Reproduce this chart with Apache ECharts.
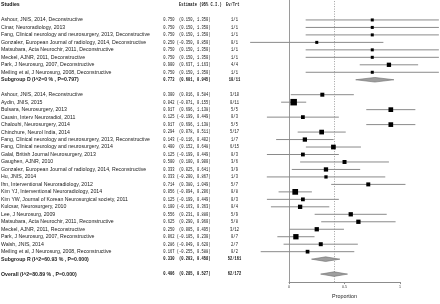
<!DOCTYPE html>
<html><head><meta charset="utf-8">
<script src="https://cdn.jsdelivr.net/npm/echarts@6/dist/echarts.min.js"></script>
<style>html,body{margin:0;padding:0;background:#fff}#c{width:440px;height:304px}</style>
</head><body><div id="c"></div>
<script>
// ---- data ----
const dStudies = [
  'Ashour, JNIS, 2014, Deconstructive',
  'Cinar, Neuroradiology, 2013',
  'Fang, Clinical neurology and neurosurgery, 2013, Deconstructive',
  'Gonzalez, European Journal of radiology, 2014, Deconstructive',
  'Matsubara, Acta Neurochir, 2011, Deconstructive',
  'Meckel, AJNR, 2011, Deconstructive',
  'Park, J Neurosurg, 2007, Deconstructive',
  'Meiling et al, J Neurosurg, 2008, Deconstructive'
];
const dEst = [0.750, 0.750, 0.750, 0.250, 0.750, 0.750, 0.900, 0.750];
const dLo  = [0.150, 0.150, 0.150, -0.350, 0.150, 0.150, 0.637, 0.150];
const dHi  = [1.350, 1.350, 1.350, 0.850, 1.350, 1.350, 1.163, 1.350];
const dEvTrt = ['1/1','1/1','1/1','0/1','1/1','1/1','4/4','1/1'];
const dWeight = [2.5, 2.5, 2.5, 2.5, 2.5, 2.5, 5.1, 2.5];

const rStudies = [
  'Ashour, JNIS, 2014, Reconstructive',
  'Aydin, JNIS, 2015',
  'Bulsara, Neurosurgery, 2013',
  'Causin, Interv Neuroradiol, 2011',
  'Chalouhi, Neurosurgery, 2014',
  'Chinchure, Neurol India, 2014',
  'Fang, Clinical neurology and neurosurgery, 2013, Reconstructive',
  'Fang, Clinical neurology and neurosurgery, 2014',
  'Galal, British Journal Neurosurgery, 2013',
  'Gaughen, AJNR, 2010',
  'Gonzalez, European Journal of radiology, 2014, Reconstructive',
  'Hu, JNIS, 2014',
  'Ihn, Interventional Neuroradiology, 2012',
  'Kim YJ, Interventional Neuroradiology, 2014',
  'Kim YW, Journal of Korean Neurosurgical society, 2011',
  'Kulcsar, Neurosurgery, 2010',
  'Lee, J Neurosurg, 2009',
  'Matsubara, Acta Neurochir, 2011, Reconstructive',
  'Meckel, AJNR, 2011, Reconstructive',
  'Park, J Neurosurg, 2007, Reconstructive',
  'Walsh, JNIS, 2014',
  'Meiling et al, J Neurosurg, 2008, Reconstructive'
];
const rEst = [0.300,0.042,0.917,0.125,0.917,0.294,0.143,0.400,0.125,0.500,0.333,0.333,0.714,0.056,0.125,0.100,0.556,0.625,0.250,0.062,0.286,0.167];
const rLo  = [0.016,-0.071,0.696,-0.199,0.696,0.078,-0.116,0.152,-0.199,0.100,0.025,-0.200,0.380,-0.094,-0.199,-0.163,0.231,0.290,0.005,-0.105,-0.049,-0.255];
const rHi  = [0.584,0.155,1.138,0.449,1.138,0.511,0.402,0.648,0.449,0.900,0.641,0.867,1.049,0.206,0.449,0.363,0.880,0.960,0.495,0.230,0.620,0.588];
const rEvTrt = ['3/10','0/11','5/5','0/3','5/5','5/17','1/7','6/15','0/3','3/6','3/9','1/3','5/7','0/8','0/3','0/4','5/9','5/8','3/12','0/7','2/7','0/2'];
const rWeight = [4.4,11.7,6.1,4.0,6.1,6.1,5.1,6.1,4.0,4.4,5.1,3.0,4.4,9.0,4.0,5.1,5.1,5.1,5.1,7.8,4.4,3.8];

const summaryLabels = ['Subgroup D (I^2=0 % , P=0.797)', 'Subgroup R (I^2=60.93 % , P=0.000)', 'Overall (I^2=80.89 % , P=0.000)'];
const summaryEst = [0.773, 0.330, 0.406];
const summaryLo  = [0.601, 0.203, 0.285];
const summaryHi  = [0.945, 0.458, 0.527];
const summaryEvTrt = ['10/11', '52/161', '62/172'];

const headers = ['Studies', 'Estimate (95% C.I.)', 'Ev/Trt'];
const axisTicks = [0, 0.5, 1];
const axisTitle = 'Proportion';

// ---- layout rows ----
const rows = [];
let r = 2;
dStudies.forEach((n,i)=>rows.push({row:r++, name:n, est:dEst[i], lo:dLo[i], hi:dHi[i], ev:dEvTrt[i], w:dWeight[i], kind:'study'}));
rows.push({row:r, name:summaryLabels[0], est:summaryEst[0], lo:summaryLo[0], hi:summaryHi[0], ev:summaryEvTrt[0], kind:'sum'});
r += 2;
rStudies.forEach((n,i)=>rows.push({row:r++, name:n, est:rEst[i], lo:rLo[i], hi:rHi[i], ev:rEvTrt[i], w:rWeight[i], kind:'study'}));
rows.push({row:r, name:summaryLabels[1], est:summaryEst[1], lo:summaryLo[1], hi:summaryHi[1], ev:summaryEvTrt[1], kind:'sum'});
r += 2;
rows.push({row:r, name:summaryLabels[2], est:summaryEst[2], lo:summaryLo[2], hi:summaryHi[2], ev:summaryEvTrt[2], kind:'sum'});

function ciText(o){
  const ci = '(' + o.lo.toFixed(3) + ', ' + o.hi.toFixed(3) + ')';
  return o.est.toFixed(3) + ' ' + ci.padStart(15, ' ');
}

const SANS = 'Liberation Sans, Arial, sans-serif';
const MONO = 'Liberation Mono, DejaVu Sans Mono, monospace';
const MSX = 0.75; // horizontal squeeze of the monospace columns

function monoText(x, y, text, weight, align){
  return {type:'text', x:x, y:y, scaleX:MSX,
    style:{x:0, y:0, text:text, fill:'#111', font:weight+'5px '+MONO, textAlign:align, textVerticalAlign:'middle'}};
}

const chart = echarts.init(document.getElementById('c'), null, {renderer:'canvas'});
chart.setOption({
  animation:false,
  backgroundColor:'#fff',
  grid:[
    {left:244.6, width:195.4, top:5, height:302.4},
    {left:289, width:111, top:0, height:287}
  ],
  xAxis:[
    {gridIndex:0, type:'value', min:-0.4, max:1.36, show:false},
    {gridIndex:1, type:'value', min:axisTicks[0], max:axisTicks[2], interval:axisTicks[1],
     axisLine:{show:true, onZero:false, lineStyle:{color:'#8c8c8c', width:1}},
     axisTick:{show:true, length:2, lineStyle:{color:'#8c8c8c'}},
     splitLine:{show:false},
     axisLabel:{fontSize:3.6, margin:3, color:'#333', fontFamily:SANS, formatter:v=>String(v)},
     name:axisTitle, nameLocation:'middle', nameGap:11,
     nameTextStyle:{fontSize:5.4, color:'#222', fontFamily:SANS}}
  ],
  yAxis:[
    {gridIndex:0, type:'value', min:0, max:40, inverse:true, show:false},
    {gridIndex:1, type:'value', min:0, max:1, show:true,
     axisLine:{show:true, lineStyle:{color:'#9a9a9a', width:1}},
     axisTick:{show:false}, axisLabel:{show:false}, splitLine:{show:false}}
  ],
  series:[
    {
      type:'custom', xAxisIndex:1, yAxisIndex:1, silent:true,
      data:[[summaryEst[2], 0]],
      renderItem:(p, api)=>{
        const a = api.coord([api.value(0), 0]), b = api.coord([api.value(0), 1]);
        return {type:'line', shape:{x1:Math.round(a[0])+0.5, y1:a[1], x2:Math.round(b[0])+0.5, y2:b[1]},
          style:{stroke:'#a0a0a0', lineWidth:1, lineDash:[1,1.5]}};
      }
    },
    {
      type:'custom', xAxisIndex:0, yAxisIndex:0, silent:true, clip:false,
      data: rows.map((o,i)=>[o.est, o.row, o.lo, o.hi, i]),
      renderItem:(p, api)=>{
        const o = rows[api.value(4)];
        const c = api.coord([api.value(0), api.value(1)]);
        const a = api.coord([api.value(2), api.value(1)]);
        const b = api.coord([api.value(3), api.value(1)]);
        if (o.kind === 'sum') {
          const h = 2.3;
          return {type:'polygon', shape:{points:[[a[0],c[1]],[c[0],c[1]-h],[b[0],c[1]],[c[0],c[1]+h]]},
            style:{fill:'#9e9e9e', stroke:'#6e6e6e', lineWidth:0.6}};
        }
        const s = 1.9*Math.sqrt(o.w);
        return {type:'group', children:[
          {type:'line', shape:{x1:a[0], y1:c[1], x2:b[0], y2:c[1]}, style:{stroke:'#8a8a8a', lineWidth:1}},
          {type:'rect', shape:{x:c[0]-s/2, y:c[1]-s/2, width:s, height:s}, style:{fill:'#000'}}
        ]};
      }
    },
    {
      type:'custom', xAxisIndex:0, yAxisIndex:0, silent:true, clip:false,
      data: [[0, 0, -1]].concat(rows.map((o,i)=>[0, o.row, i])),
      renderItem:(p, api)=>{
        const idx = api.value(2);
        const y = api.coord([0, api.value(1)])[1];
        if (idx < 0) {
          return {type:'group', children:[
            {type:'text', style:{x:1, y:y, text:headers[0], fill:'#111', font:'bold 5.2px '+SANS, textVerticalAlign:'middle'}},
            monoText(179, y, headers[1], 'bold ', 'left'),
            monoText(226, y, headers[2], 'bold ', 'left')
          ]};
        }
        const o = rows[idx];
        const b = o.kind === 'sum' ? 'bold ' : '';
        return {type:'group', children:[
          {type:'text', style:{x:1, y:y, text:o.name, fill:'#222', font:b+'5.2px '+SANS, textVerticalAlign:'middle'}},
          monoText(210.5, y, ciText(o), b, 'right'),
          monoText(234.5, y, o.ev, b, 'center')
        ]};
      }
    }
  ]
});
</script>
</body></html>
